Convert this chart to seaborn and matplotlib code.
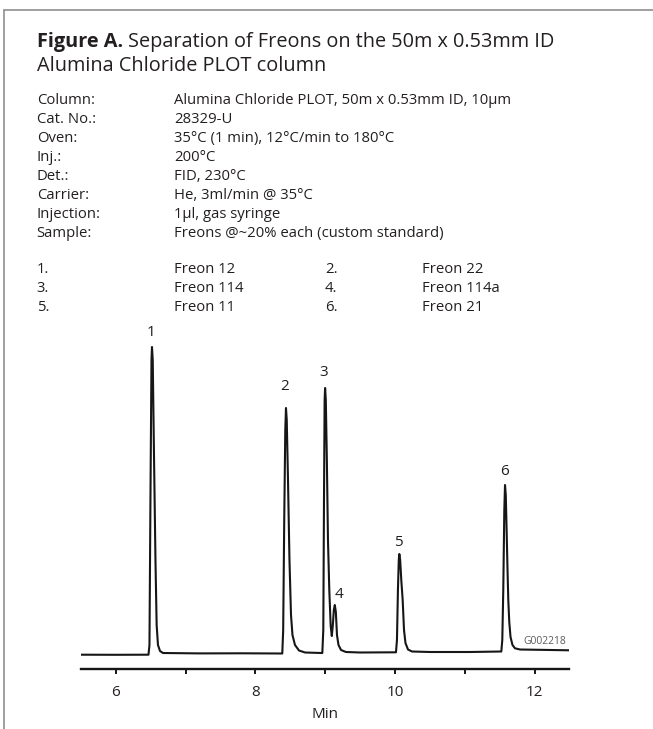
import matplotlib
matplotlib.use("Agg")
import matplotlib.pyplot as plt
import seaborn as sns
import pandas as pd
from matplotlib.lines import Line2D

# ---------------- data ----------------
param_labels = ["Column:", "Cat. No.:", "Oven:", "Inj.:", "Det.:", "Carrier:", "Injection:", "Sample:"]
param_values = [
    "Alumina Chloride PLOT, 50m x 0.53mm ID, 10µm",
    "28329-U",
    "35°C (1 min), 12°C/min to 180°C",
    "200°C",
    "FID, 230°C",
    "He, 3ml/min @ 35°C",
    "1µl, gas syringe",
    "Freons @~20% each (custom standard)",
]
peak_ids = [1, 2, 3, 4, 5, 6]
peak_names = ["Freon 12", "Freon 22", "Freon 114", "Freon 114a", "Freon 11", "Freon 21"]

# chromatogram trace (time in min, detector signal in arbitrary units)
time_min = [
    5.50, 6.00, 6.466,
    6.480, 6.494, 6.509, 6.516, 6.527, 6.544, 6.566, 6.583, 6.602, 6.631, 6.674,
    7.20, 7.80, 8.384,
    8.397, 8.412, 8.427, 8.437, 8.448, 8.466, 8.487, 8.509, 8.530, 8.566, 8.624, 8.710, 8.946,
    8.958, 8.972, 8.982, 8.991, 8.998, 9.008, 9.023, 9.039, 9.058, 9.078, 9.094,
    9.109, 9.123, 9.137, 9.152, 9.168, 9.190, 9.226, 9.297, 9.498, 10.014,
    10.028, 10.042, 10.054, 10.062, 10.074, 10.090, 10.110, 10.129, 10.150, 10.186, 10.244,
    10.502, 11.075, 11.524,
    11.538, 11.552, 11.567, 11.577, 11.588, 11.601, 11.613, 11.624, 11.638, 11.656, 11.684,
    11.720, 11.792, 12.50,
]
signal = [
    0.3, 0.2, 0.3,
    10, 155, 295, 308, 295, 205, 95, 30, 10, 4, 2,
    1.6, 1.7, 1.5,
    25, 135, 225, 247, 235, 175, 95, 40, 20, 10, 4.5, 2.5, 2,
    2, 25, 155, 255, 267, 255, 195, 115, 65, 29, 19,
    30, 45, 50, 43, 20, 10, 5, 3, 2.5, 2.7,
    15, 65, 95, 101, 95, 75, 55, 25, 12, 5.5, 3.5,
    3, 3, 3.5,
    15, 65, 145, 170, 160, 122, 85, 55, 33, 18, 10,
    6.7, 5.5, 4.7,
]

# peak number labels (time, signal)
label_time = [6.498, 8.413, 8.973, 9.201, 10.048, 11.567]
label_signal = [322, 268, 282, 60, 113, 183]

major_ticks = [6, 8, 10, 12]
minor_ticks = [7, 9, 11]
x_label = "Min"
code_text = "G002218"

# ---------------- style ----------------
INK = "#231f20"
sns.set_style("white")
plt.rcParams["font.family"] = ["Open Sans", "DejaVu Sans"]
plt.rcParams["text.color"] = INK

W, H = 653, 729
fig = plt.figure(figsize=(W / 100, H / 100), dpi=100)
renderer = fig.canvas.get_renderer()


def fx(x):
    return x / W


def fy(y):
    return 1 - y / H


def wpx(t):
    return t.get_window_extent(renderer).width


# frame lines
fig.add_artist(Line2D([fx(4), fx(W)], [fy(10), fy(10)], color="#8f8f8f", lw=1.2))
fig.add_artist(Line2D([fx(4), fx(4)], [fy(10), fy(H)], color="#8f8f8f", lw=1.2))

# title
base = 14.0
t_bold = fig.text(fx(36.7), fy(46.7), "Figure A.", fontweight="bold", fontsize=base, va="baseline", ha="left")
t_rest = fig.text(0, fy(46.7), "Separation of Freons on the 50m x 0.53mm ID", fontsize=base, va="baseline", ha="left")
gap = 0.27 * base * 100 / 72
k = 521 / (wpx(t_bold) + gap + wpx(t_rest))
tsize = base * k
t_bold.set_fontsize(tsize)
t_rest.set_fontsize(tsize)
t_rest.set_x(fx(36.7 + wpx(t_bold) + gap * k))
fig.text(fx(36.7), fy(71), "Alumina Chloride PLOT column", fontsize=tsize, va="baseline", ha="left")

# body size fitted to the width of the first value line
probe = fig.text(0, 0, param_values[0], fontsize=10)
bsize = 10 * 339 / wpx(probe)
probe.remove()

y0, dy = 104.5, 18.9
for i, (lab, val) in enumerate(zip(param_labels, param_values)):
    y = y0 + i * dy
    fig.text(fx(36.7), fy(y), lab, fontsize=bsize, va="baseline", ha="left")
    fig.text(fx(174), fy(y), val, fontsize=bsize, va="baseline", ha="left")

list_y0 = 273.3
for i, (pid, name) in enumerate(zip(peak_ids, peak_names)):
    row, col = divmod(i, 2)
    y = list_y0 + row * dy
    xn, xv = (36.7, 174) if col == 0 else (325, 422)
    fig.text(fx(xn), fy(y), f"{pid}.", fontsize=bsize, va="baseline", ha="left")
    fig.text(fx(xv), fy(y), name, fontsize=bsize, va="baseline", ha="left")

# ---------------- chromatogram ----------------
ax_bottom_px, ax_top_px = 668.7, 320.0
ax = fig.add_axes([fx(81.1), (H - ax_bottom_px) / H, (569.4 - 81.1) / W, (ax_bottom_px - ax_top_px) / H])
df = pd.DataFrame({"time": time_min, "signal": signal})
sns.lineplot(data=df, x="time", y="signal", ax=ax, color="#161616", linewidth=1.5,
             estimator=None, sort=False)
ax.set_xlim(5.5, 12.5)
ax.set_ylim(-13.7, 335)
for s in ["left", "right", "top"]:
    ax.spines[s].set_visible(False)
ax.spines["bottom"].set_linewidth(1.7)
ax.spines["bottom"].set_color("#161616")
ax.set_yticks([])
ax.set_ylabel("")
ax.set_xticks(major_ticks)
ax.set_xticklabels([str(v) for v in major_ticks])
ax.set_xticks(minor_ticks, minor=True)
ax.tick_params(axis="x", which="both", direction="out", length=3.8, width=1.4,
               color="#161616", labelsize=bsize * 1.02, labelcolor=INK, pad=8, bottom=True)
ax.set_xlabel(x_label, fontsize=bsize * 1.02, color=INK, labelpad=5)
ax.patch.set_alpha(0)

for pid, lt, ls in zip(peak_ids, label_time, label_signal):
    ax.text(lt, ls, str(pid), ha="center", va="center", fontsize=bsize * 1.02, color=INK, clip_on=False)

gt = fig.text(fx(523), fy(641.5), code_text, fontsize=7, color="#5a5a5a", va="center", ha="left")
gt.set_fontsize(7 * 43 / wpx(gt))

fig.savefig("out.png", dpi=100)
